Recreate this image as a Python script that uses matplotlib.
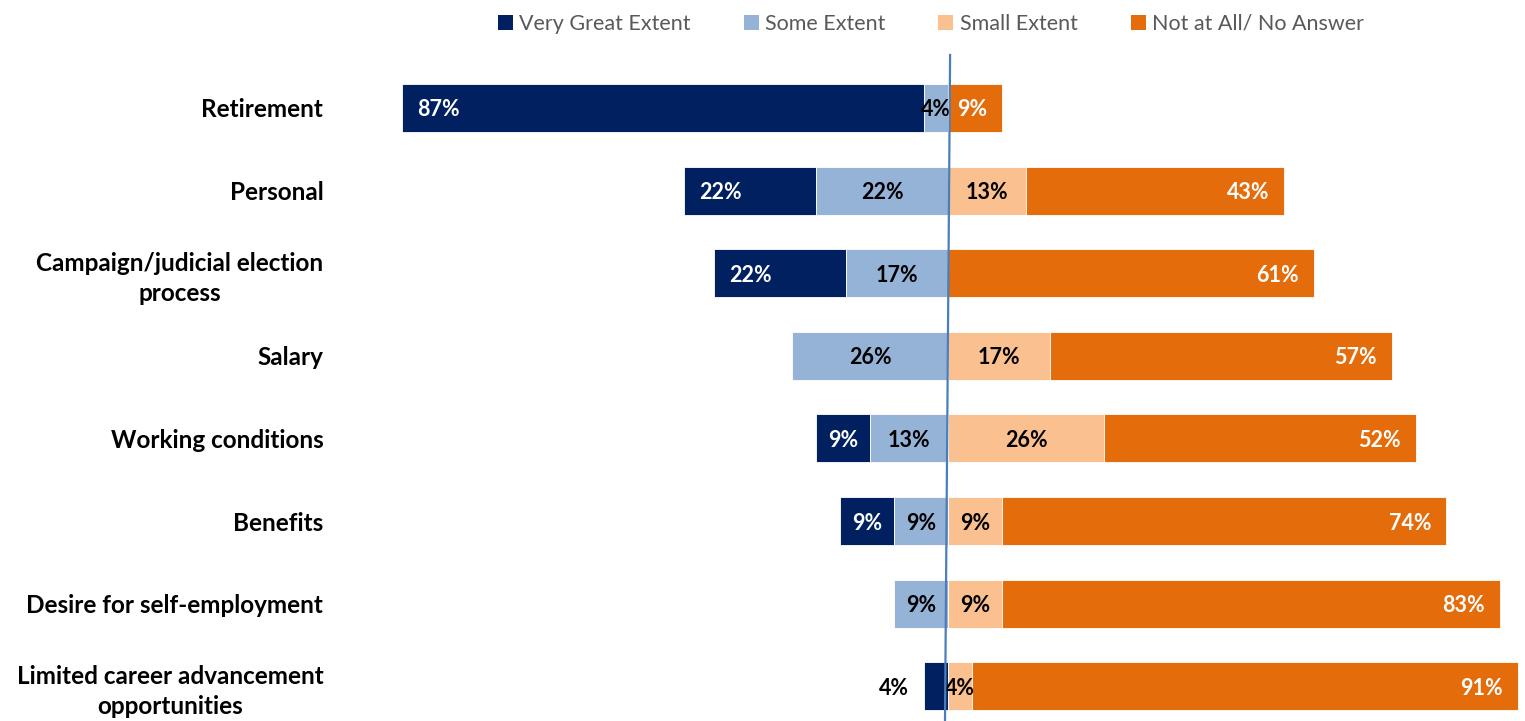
import matplotlib
matplotlib.use("Agg")
import matplotlib.pyplot as plt
import matplotlib.transforms as mtransforms
from matplotlib.patches import Patch
import numpy as np

plt.rcParams["font.family"] = ["Lato", "DejaVu Sans"]

categories = [
    "Retirement",
    "Personal",
    "Campaign/judicial election\nprocess",
    "Salary",
    "Working conditions",
    "Benefits",
    "Desire for self-employment",
    "Limited career advancement\nopportunities",
]
very_great = [87, 22, 22, 0, 9, 9, 0, 4]
some = [4, 22, 17, 26, 13, 9, 9, 0]
small = [0, 13, 0, 17, 26, 9, 9, 4]
not_at_all = [9, 43, 61, 57, 52, 74, 83, 91]

series_names = ["Very Great Extent", "Some Extent", "Small Extent", "Not at All/ No Answer"]
colors = ["#002060", "#95B3D7", "#FAC090", "#E46C0A"]
text_colors = ["white", "black", "black", "white"]

W, H, DPI = 1525, 721, 100
fig = plt.figure(figsize=(W / DPI, H / DPI), dpi=DPI)
ax = fig.add_axes([340 / W, 0, 1185 / W, 661 / H])

y = np.arange(len(categories))
vg = np.array(very_great, dtype=float)
so = np.array(some, dtype=float)
sm = np.array(small, dtype=float)
na = np.array(not_at_all, dtype=float)

bar_h = 0.58
# first two series stack outward to the left of zero, the rest to the right
segments = [(-(vg + so), vg), (-so, so), (np.zeros_like(sm), sm), (sm, na)]

pad = 2.5
for k, (start, width) in enumerate(segments):
    ax.barh(y, width, left=start, height=bar_h, color=colors[k],
            edgecolor="white", linewidth=0.6, zorder=2)
    for i in range(len(y)):
        v = width[i]
        if v <= 0:
            continue
        lo, hi = start[i], start[i] + v
        label = f"{int(v)}%"
        tc = text_colors[k]
        if k == 0 and v >= 15:
            x, ha = lo + pad, "left"
        elif k == 0 and v < 5:
            x, ha, tc = lo - pad, "right", "black"
        elif k == 3:
            x, ha = hi - pad, "right"
        else:
            x, ha = (lo + hi) / 2, "center"
        ax.text(x, y[i], label, ha=ha, va="center_baseline", color=tc,
                fontsize=15.5, fontweight="bold", zorder=4)

ax.set_xlim(-(948 - 340) / 6.0, (1525 - 948) / 6.0)
ax.set_ylim(7.42, -0.58)
ax.set_yticks(y)
ax.set_yticklabels(categories, fontsize=17.5, fontweight="bold",
                   multialignment="center", linespacing=1.35)
ax.tick_params(axis="y", length=0, pad=12)
ax.set_xticks([])
for s in ax.spines.values():
    s.set_visible(False)

# zero reference line, running from just under the legend to the bottom edge
trans = mtransforms.blended_transform_factory(ax.transData, fig.transFigure)
ax.plot([0.35, -0.5], [1 - 55 / H, 0], transform=trans, color="#4A7EBB",
        linewidth=1.6, clip_on=False, zorder=5)

handles = [Patch(facecolor=c, edgecolor="none") for c in colors]
fig.legend(handles, series_names, loc="center", bbox_to_anchor=(931 / W, 1 - 24 / H),
           ncol=4, frameon=False, fontsize=15.5, handlelength=0.7, handleheight=0.7,
           handletextpad=0.3, columnspacing=2.45, labelcolor="#595959")

fig.savefig("out.png", dpi=DPI, facecolor="white")
